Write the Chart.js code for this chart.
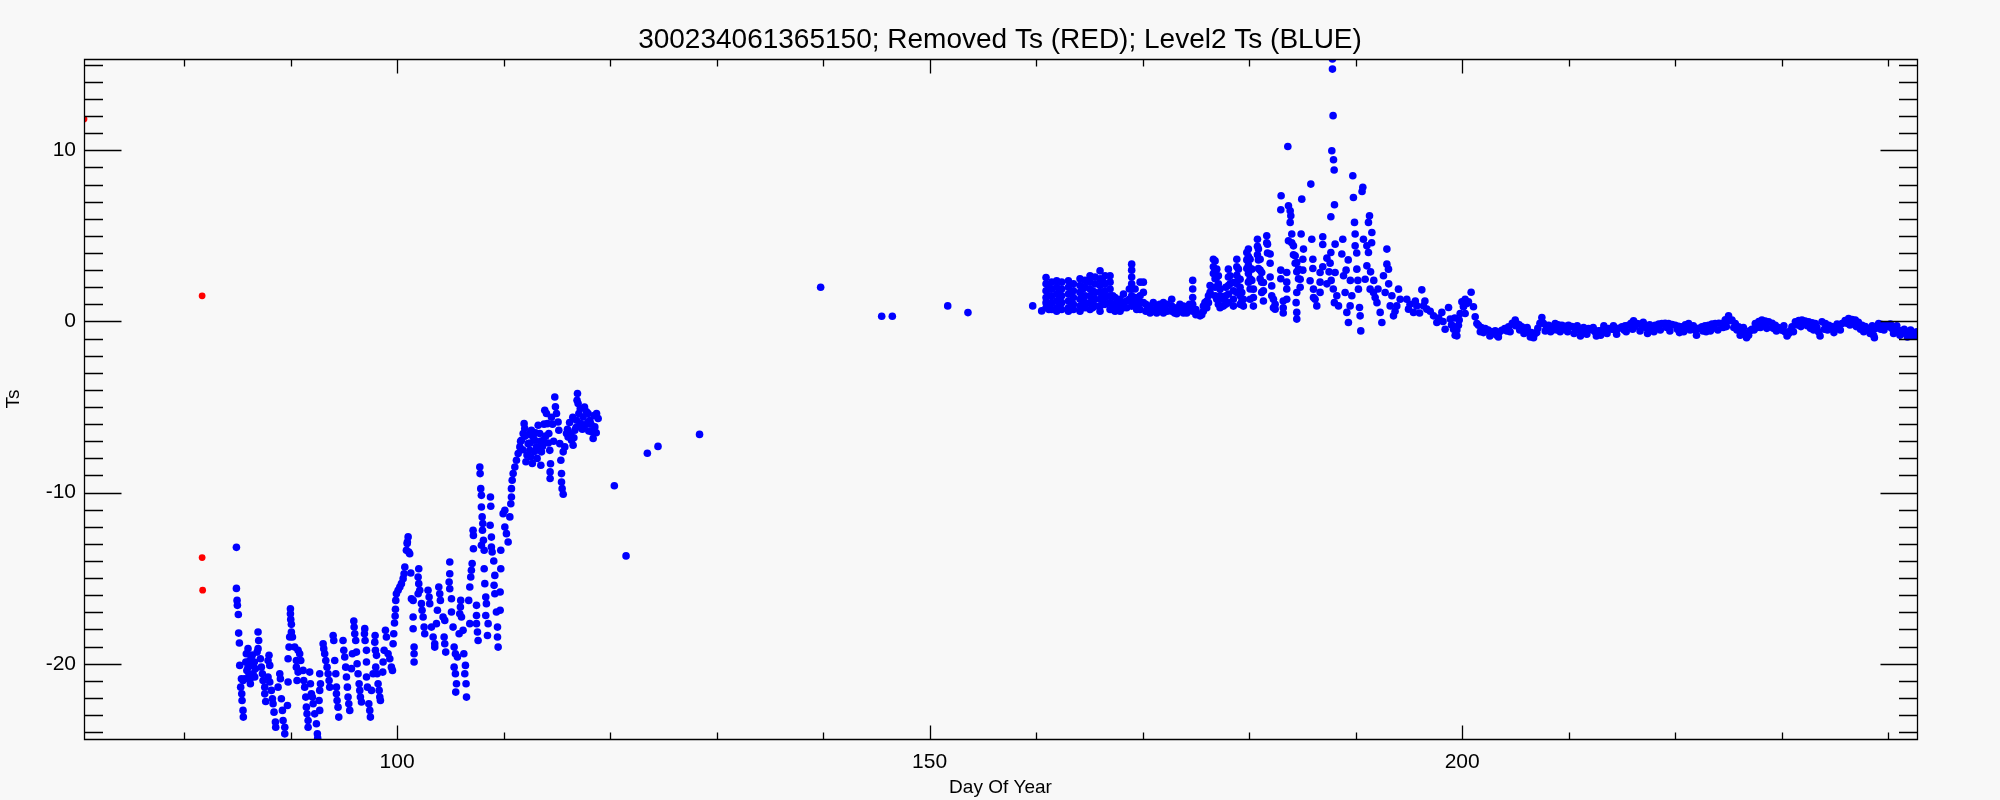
<!DOCTYPE html>
<html>
<head>
<meta charset="utf-8">
<script src="https://cdn.jsdelivr.net/npm/chart.js"></script>
<style>
html,body{margin:0;padding:0;background:#f8f8f8;}
canvas{display:block;}
</style>
</head>
<body>
<canvas id="c" width="2000" height="800"></canvas>
<script>
// ---------- text ----------
const titleText = '300234061365150; Removed Ts (RED); Level2 Ts (BLUE)';
const xAxisTitle = 'Day Of Year';
const yAxisTitle = 'Ts';

// ---------- axes ----------
const xRange = [70.61, 242.7];
const yRange = [-24.4, 15.34];
const xMajorTicks = [100, 150, 200];
const xMinorTicks = [80, 90, 110, 120, 130, 140, 160, 170, 180, 190, 210, 220, 230, 240];
const yMajorTicks = [-20, -10, 0, 10];
const yMinorTicks = [-24, -23, -22, -21, -19, -18, -17, -16, -15, -14, -13, -12, -11, -9, -8, -7, -6, -5, -4, -3, -2, -1, 1, 2, 3, 4, 5, 6, 7, 8, 9, 11, 12, 13, 14, 15];

// ---------- data: [day, Ts] ----------
const redRemoved = [[70.61,11.83],[81.7,1.5],[81.7,-13.8],[81.75,-15.7]];

const blueSpringA = [
[84.92,-13.2],[84.92,-15.6],[84.98,-16.3],[85.01,-16.59],[85.10,-17.12],[85.13,-18.21],[85.20,-18.79],[85.23,-20.1],[85.39,-20.88],[85.32,-21.37],[85.42,-21.76],[85.45,-22.15],[85.54,-22.73],[85.57,-23.12],
[85.54,-20.98],[85.70,-20.88],[85.85,-19.42],[86.01,-19.12],[86.17,-19.81],[86.01,-20.2],[86.48,-20.59],[86.64,-20.78],[86.23,-21.17],[86.33,-19.6],[86.5,-20.1],[85.8,-19.9],[85.9,-20.4],[86.1,-20.6],[86.3,-20.1],[86.4,-19.5],[86.6,-19.9],[86.7,-20.3],[86.2,-20.9],
[86.95,-18.15],[87.01,-18.64],[86.95,-19.12],[86.86,-19.32],[87.17,-19.71],[87.26,-20.2],[87.36,-20.59],[87.42,-20.98],[87.58,-21.37],[87.58,-21.76],[87.67,-22.21],
[87.98,-19.51],[87.89,-19.81],[88.05,-20.1],[87.89,-20.78],[88.05,-21.07],[88.20,-21.56],[88.30,-22.05],[88.36,-22.34],[88.45,-22.83],[88.58,-23.41],[88.61,-23.71],
[88.99,-20.59],[89.05,-20.88],[88.83,-21.37],[89.14,-22.05],[89.24,-22.73],[89.30,-23.32],[89.46,-23.71],[89.46,-24.1],
[89.77,-21.07],[89.71,-22.44],
[89.99,-16.79],[89.99,-17.08],[90.02,-17.41],[90.08,-17.7],[90.08,-18.15],[90.18,-18.44],[89.92,-18.44],[89.86,-19.03],[89.77,-19.71],[90.39,-19.03],[90.71,-19.22],[90.86,-19.42],[90.55,-19.81],[90.55,-20.2],[90.71,-20.49],[90.61,-20.98],[90.96,-19.81],
[91.18,-20.39],[91.24,-20.98],[91.33,-21.37],[91.43,-21.95],[91.49,-22.54],[91.55,-22.93],[91.65,-23.32],[91.65,-23.71],
[91.80,-20.49],[91.87,-21.17],[91.96,-21.76],[92.05,-21.95],[92.12,-22.34],[92.27,-22.93],[92.43,-23.51],[92.52,-24.1],[92.55,-24.35],
[92.74,-20.59],[92.81,-21.17],[92.74,-21.56],[92.68,-22.15],[92.74,-22.73],
[93.06,-18.83],[93.12,-19.12],[93.21,-19.42],[93.31,-19.81],[93.43,-20.2],[93.53,-20.59],[93.62,-20.98],[93.68,-21.37],
[94.0,-18.35],[94.06,-18.64],[94.15,-19.81],[94.25,-20.59],[94.31,-21.37],[94.31,-21.76],[94.37,-22.15],[94.46,-22.54],[94.53,-23.12],
[94.93,-18.64],[95.0,-19.22],[95.09,-19.61],[95.18,-20.2],[95.25,-20.78],[95.34,-21.37],[95.40,-21.95],[95.47,-22.34],[95.56,-22.73],
[95.94,-17.51],[95.97,-17.86],[96.03,-18.25],[96.12,-18.64],[95.81,-19.42],[95.72,-20.29],[96.19,-19.32],[96.25,-20.0],[96.34,-20.59],[96.44,-21.17],[96.50,-21.56],[96.56,-21.95],[96.66,-22.24],
[96.97,-17.95],[96.94,-18.25],[97.0,-18.64],[97.13,-19.22],[97.13,-19.9],[97.13,-20.78],[97.22,-21.37],[97.35,-22.34],[97.44,-22.73],[97.50,-23.12],
[97.94,-18.35],[97.91,-18.74],[97.97,-19.22],[98.07,-19.51],[98.0,-20.2],[98.13,-20.59],[98.22,-21.17],[98.32,-21.56],[98.38,-21.95],[98.44,-22.15],[97.75,-20.59],[97.60,-21.56],
[98.91,-18.05],[99.0,-18.44],[98.79,-19.22],[99.16,-19.42],[99.32,-19.71],[99.47,-20.2],[99.57,-20.39],[98.69,-19.9],[98.66,-20.49],
[99.63,-18.83],[99.69,-18.25],[99.76,-17.62],[99.82,-17.21],[99.85,-16.82],[99.88,-16.3],[99.94,-15.91],[100.1,-15.71],[100.26,-15.52],[100.41,-15.32],[100.57,-15.03],[100.66,-14.74],[100.73,-14.35],[100.88,-13.37],[100.95,-12.98],[101.04,-12.59]
];

const blueSpringB = [
[100.97,-12.89],[101.1,-13.47],[101.19,-13.57],[101.29,-14.7],
[101.35,-16.2],[101.51,-16.3],[101.51,-17.27],[101.51,-17.96],[101.6,-19.03],[101.6,-19.42],[101.6,-19.9],
[102.04,-14.45],[101.98,-14.93],[102.04,-15.32],[102.13,-15.71],[101.98,-15.91],[102.29,-16.49],[102.35,-16.88],[102.45,-17.27],[102.54,-17.86],[102.6,-18.25],
[102.91,-15.71],[103.01,-16.1],[103.07,-16.49],[103.23,-17.86],[103.39,-18.44],[103.54,-18.83],[103.54,-19.03],
[103.92,-15.52],[104.01,-15.91],[104.07,-16.3],[103.79,-16.88],[103.7,-17.66],[104.32,-17.27],[104.48,-17.47],[104.42,-18.44],[104.48,-18.83],[104.57,-19.32],
[104.95,-14.06],[104.95,-14.74],[104.89,-15.23],[104.95,-15.62],[105.11,-16.2],[105.11,-16.98],[105.26,-17.86],[105.36,-19.03],[105.48,-19.42],[105.67,-19.61],[105.36,-20.2],[105.48,-20.59],[105.58,-21.17],[105.51,-21.66],
[105.98,-16.3],[105.95,-16.69],[105.89,-17.08],[106.05,-17.27],[105.83,-18.25],[106.2,-18.05],[106.27,-19.42],[106.42,-20.1],[106.36,-20.59],[106.48,-21.17],[106.52,-21.95],
[106.73,-16.3],[106.83,-15.52],[106.92,-14.93],[106.98,-14.54],[107.05,-14.15],[106.83,-17.66],[107.14,-12.2],[107.17,-12.5],[107.17,-13.28],[107.46,-16.59],[107.46,-17.18],[107.46,-17.66],[107.55,-18.15],[107.61,-18.64],
[107.77,-8.5],[107.8,-8.89],[107.86,-9.77],[107.92,-10.16],[107.92,-10.84],[107.99,-11.42],[108.05,-11.81],[108.02,-12.2],[108.11,-12.79],[107.92,-13.08],[108.18,-13.37],[108.18,-14.45],[108.24,-15.32],[108.33,-16.1],[108.39,-16.49],[108.33,-17.18],[108.55,-17.66],[108.49,-18.35],
[108.77,-10.26],[108.8,-10.8],[108.74,-11.91],[108.86,-12.6],[108.86,-13.18],[108.93,-13.47],[109.08,-14.0],[109.18,-14.84],[109.11,-15.42],[109.18,-15.91],[109.33,-16.98],[109.43,-17.86],[109.43,-18.44],[109.49,-19.03],
[109.74,-13.37],[109.74,-14.45],[109.68,-15.81],[109.68,-16.88],[110.12,-11.03],[109.96,-11.23],[110.12,-12.01],[110.27,-12.4],[110.43,-12.89],[110.59,-11.42],[110.68,-10.65],[110.74,-10.26],[110.74,-9.77],[110.81,-9.28],[110.9,-8.89],[111.06,-8.5],[111.21,-8.11],[111.37,-7.72],[111.53,-7.33],[111.68,-6.94],[111.84,-6.55],[111.93,-5.97],[111.99,-6.26]
];

const blueSpringC = [
[112.31,-7.14],[112.46,-7.53],[112.56,-7.92],[112.62,-6.36],[112.78,-6.75],[112.93,-6.94],[113.09,-7.33],[113.25,-6.06],[113.4,-6.55],[113.56,-7.62],[113.5,-8.4],[113.72,-6.94],[113.87,-5.19],[114.03,-5.38],[114.12,-5.97],[114.25,-6.55],[114.34,-7.53],[114.41,-8.31],[114.37,-8.79],[114.37,-9.18],
[111.6,-7.0],[111.8,-7.5],[112.0,-6.7],[112.1,-8.2],[112.2,-7.8],[112.4,-6.6],[112.5,-7.1],[112.7,-8.3],[112.9,-7.6],[113.0,-6.5],[113.15,-8.0],[113.3,-7.5],[113.45,-7.0],[113.65,-7.3],[113.8,-6.0],[113.95,-6.7],[114.2,-7.1],[114.5,-5.6],[114.6,-6.0],[114.7,-7.0],
[114.81,-4.41],[114.87,-4.99],[114.97,-5.38],[115.12,-5.87],[115.19,-6.36],[115.28,-7.14],[115.38,-8.11],[115.44,-8.89],[115.44,-9.38],[115.5,-9.77],[115.6,-10.1],[115.6,-7.62],[115.75,-7.33],
[115.91,-6.55],[116.06,-6.75],[116.38,-6.94],[116.53,-7.23],[116.69,-6.36],[116.85,-5.77],[116.94,-4.21],[117.0,-4.8],[117.07,-5.38],[117.25,-5.97],[117.47,-5.58],[117.63,-6.06],[117.79,-5.28],[117.94,-5.38],[118.1,-5.77],[118.26,-6.45],[118.41,-6.84],[118.57,-6.16],[118.73,-5.38],[118.88,-5.67],
[116.0,-6.3],[116.2,-5.9],[116.3,-6.6],[116.5,-5.6],[116.6,-6.8],[116.8,-6.2],[116.9,-4.6],[117.2,-5.1],[117.4,-6.3],[117.6,-5.0],[117.9,-5.9],[118.0,-6.4],[118.2,-6.0],[118.5,-5.5],[118.7,-6.5]
];

const blueSparse = [[120.4,-9.6],[121.5,-13.7],[123.5,-7.7],[124.5,-7.3],[128.4,-6.6],[139.77,2.0],[145.5,0.31],[146.5,0.31],[151.7,0.91],[153.6,0.52]];

const blueSummerA = [
[159.68,0.91],[160.52,0.62],
[160.93,2.57],[160.93,2.2],[160.93,1.8],[160.93,1.4],[160.93,1.1],[160.93,0.8],
[161.2,2.0],[161.2,1.5],[161.2,1.0],[161.2,0.7],
[161.46,2.3],[161.46,1.9],[161.46,1.5],[161.46,1.1],[161.46,0.7],
[161.93,2.38],[161.93,2.0],[161.93,1.6],[161.93,1.2],[161.93,0.8],[161.93,0.6],
[162.2,1.8],[162.2,1.3],[162.2,0.9],
[162.4,2.3],[162.4,1.9],[162.4,1.5],[162.4,1.1],[162.4,0.7],
[163.03,2.38],[163.03,2.0],[163.03,1.6],[163.03,1.2],[163.03,0.8],[163.03,0.6],
[163.3,1.7],[163.3,1.2],[163.3,0.8],
[163.5,2.2],[163.5,1.8],[163.5,1.4],[163.5,1.0],[163.5,0.7],
[164.12,2.5],[164.12,2.1],[164.12,1.7],[164.12,1.3],[164.12,0.9],[164.12,0.6],
[164.4,1.9],[164.4,1.4],[164.4,1.0],
[164.59,2.4],[164.59,2.0],[164.59,1.5],[164.59,1.1],[164.59,0.8],
[165.06,2.67],[165.06,2.3],[165.06,1.9],[165.06,1.5],[165.06,1.1],[165.06,0.7],
[165.3,1.8],[165.3,1.2],[165.3,0.8],
[165.53,2.6],[165.53,2.2],[165.53,1.7],[165.53,1.3],[165.53,0.9],
[166.0,2.96],[166.0,2.5],[166.0,2.1],[166.0,1.7],[166.0,1.3],[166.0,0.9],[166.0,0.6],
[166.3,2.3],[166.3,1.6],[166.3,1.0],
[166.47,2.67],[166.47,2.2],[166.47,1.8],[166.47,1.4],[166.47,1.0],
[166.94,2.67],[166.94,2.3],[166.94,1.9],[166.94,1.5],[166.94,1.1],[166.94,0.7],
[167.2,1.5],[167.2,1.0],[167.2,0.7],
[167.41,1.4],[167.41,1.0],[167.41,0.6],
[167.65,1.1],[167.65,0.7],
[167.88,1.3],[167.88,0.9],[167.88,0.6],
[168.2,1.6],[168.2,1.1],[168.2,0.8],
[168.5,1.2],[168.5,0.8],
[168.75,1.9],[168.75,1.3],
[168.97,3.35],[168.97,3.0],[168.97,2.6],[168.97,2.2],[168.97,1.9],[168.97,1.5],[168.97,1.2],[168.97,0.9],
[169.29,1.9],[169.29,1.4],[169.29,1.0],
[169.44,1.3],[169.44,0.9],[169.44,0.7],
[169.76,2.3],[169.76,1.5],[169.76,1.1],[169.76,0.7],
[170.07,2.3],[170.07,1.7],[170.07,1.1]
];

const blueSummerB = [
[170.3,1.0],[170.3,0.6],[170.5,0.8],[170.7,0.9],[170.7,0.5],[171.0,1.1],[171.0,0.6],[171.32,0.8],[171.32,0.5],[171.6,1.0],[171.6,0.6],
[171.95,1.1],[171.95,0.7],[171.95,0.5],[172.3,1.0],[172.3,0.6],[172.73,1.3],[172.73,0.9],[172.73,0.6],[173.0,0.8],[173.0,0.5],
[173.2,0.7],[173.2,0.45],[173.5,1.0],[173.5,0.6],[173.83,0.9],[173.83,0.5],[174.14,0.8],[174.14,0.5],[174.4,1.0],[174.4,0.7],
[174.7,2.4],[174.7,1.9],[174.7,1.4],[174.7,1.0],[174.7,0.6],[175.0,0.7],[175.0,0.4],[175.2,0.45],[175.39,0.33],[175.55,0.4],
[175.7,0.6],[175.7,0.9],[175.85,1.1],
[176.02,1.2],[176.02,0.8],[176.18,1.5],[176.18,1.1],[176.33,2.1],[176.33,1.7],[176.64,3.64],[176.64,3.2],[176.64,2.8],
[176.8,3.54],[176.8,3.0],[176.8,2.5],[176.8,2.0],[176.8,1.5],[176.96,3.06],[176.96,2.6],[176.96,1.3],[177.11,2.67],[177.11,2.2],[177.11,1.0],
[177.27,1.89],[177.27,1.5],[177.27,0.8],
[177.58,1.3],[177.58,0.9],[177.8,2.0],[177.8,1.5],[177.8,1.0],[178.05,3.06],[178.05,2.6],[178.05,2.1],[178.05,1.6],[178.05,1.1],
[178.21,2.67],[178.21,2.2],[178.52,2.28],[178.52,1.8],[178.52,1.3],[178.52,0.9],[178.84,3.64],[178.84,3.2],[178.84,2.7],[178.84,2.2],[178.84,1.7],
[178.99,3.06],[178.99,2.5],[179.15,2.47],[179.15,2.0],[179.15,1.5],[179.15,1.0],[179.31,1.69],[179.31,1.2],[179.46,1.3],[179.46,0.9],
[179.78,4.03],[179.78,3.6],[179.78,3.1],[179.93,4.23],[179.93,3.8],[179.93,3.3],[179.93,2.8],[179.93,2.3],
[180.09,3.64],[180.09,3.1],[180.09,2.5],[180.09,1.9],[180.09,1.3],[180.25,3.06],[180.25,2.4],[180.4,1.89],[180.4,1.4],[180.4,0.9],
[180.78,4.81],[180.78,4.4],[180.78,3.9],[180.87,4.23],[180.87,3.6],[180.87,3.1],[181.03,3.64],[181.03,3.0],[181.03,2.5],
[181.18,2.86],[181.18,2.3],[181.18,1.7],[181.34,2.28],[181.34,1.8],[181.34,1.2],[181.65,5.01],[181.65,4.6],[181.72,4.52],[181.72,4.0],
[181.97,3.94],[181.97,3.4],[181.97,2.6],[182.12,2.08],[182.12,1.5],[182.28,1.3],[182.28,0.8],[182.44,0.72],[182.44,1.0]
];

const blueSummerC = [
[182.97,6.53],[182.97,3.0],[182.97,2.5],[183.0,7.35],[183.2,1.2],[183.2,0.8],[183.2,0.5],[183.53,2.86],[183.53,2.3],[183.53,1.9],[183.53,1.3],
[183.63,10.23],[183.69,6.76],[183.69,4.72],[183.85,6.47],[183.91,6.18],[183.85,5.79],[184.0,5.11],[184.0,4.6],[184.16,4.42],[184.16,3.9],
[184.32,3.84],[184.32,3.4],[184.47,3.45],[184.47,2.9],[184.63,3.06],[184.63,2.5],[184.79,2.47],[184.79,2.0],[184.94,7.15],[184.88,5.11],
[185.04,3.64],[185.04,3.0],[185.1,4.23],[184.47,1.69],[184.47,0.53],[184.47,0.14],[184.41,1.1],
[185.79,8.03],[185.88,4.81],[185.98,3.64],[185.98,3.1],[185.72,2.38],[186.04,1.89],[186.04,1.4],[186.19,1.3],[186.35,0.91],
[186.66,2.86],[186.66,2.3],[186.66,1.7],[186.91,4.95],[186.91,4.5],[186.91,3.2],
[187.82,15.34],[187.82,14.75],[187.88,12.03],[187.76,9.98],[187.92,9.45],[187.98,8.85],[188.01,6.82],[187.67,6.12],[188.07,4.52],[187.67,4.03],
[187.6,3.41],[188.07,2.86],[188.23,1.5],[188.39,0.91],[187.7,2.4],[187.9,1.9],[188.0,1.1],[187.5,2.9],[187.3,3.7],[187.3,2.2],
[188.79,4.81],[188.7,3.94],[188.86,2.67],[189.01,1.69],[189.17,0.53],[189.32,-0.06],[189.48,0.91],[189.64,1.5],[189.73,8.52],[189.79,7.25],
[189.89,5.79],[189.95,5.11],[189.95,4.42],[190.11,3.06],[190.26,1.89],[190.36,0.82],[190.42,0.33],[190.48,-0.55],[190.67,7.84],[190.6,7.6],
[189.5,2.4],[189.3,3.6],[189.1,3.0],[190.2,2.4],[190.1,4.0],
[191.3,6.18],[191.2,5.79],[191.52,5.2],[190.73,4.81],[191.05,4.42],[191.2,4.03],[191.05,3.25],[190.89,2.47],[191.36,1.89],[191.67,1.69],
[191.83,1.4],[192.3,0.53],[192.46,-0.06],[191.5,4.6],[191.4,2.9],[191.7,2.4],[192.0,1.1],[192.1,1.9],
[192.93,4.23],[192.93,3.35],[193.08,3.06],[192.61,2.67],[192.77,1.69],[193.24,0.91],[193.55,0.33],[193.86,0.91],[194.02,1.89],[194.18,1.3],
[193.1,2.2],[193.4,1.5],[193.7,0.6],
[194.8,1.3],[194.96,0.72],[195.43,0.53],[195.74,0.91],[196.21,1.85],[196.37,0.91],[196.68,0.72],[195.1,1.0],[195.6,1.2],[196.0,0.5],[196.5,1.2],
[197.31,0.33],[197.62,-0.06],[198.09,0.53],[198.4,-0.45],[198.72,0.82],[198.88,0.14],[199.19,-0.45],[199.5,-0.84],[197.0,0.6],[197.8,0.2],
[198.2,0.0],[199.0,-0.2],[199.3,0.2],
[199.34,-0.8],[199.5,-0.5],[199.65,-0.22],[199.72,0.08],[199.81,0.47],[199.97,1.15],[200.12,0.86],[200.28,0.47],[200.44,1.05],[200.59,1.15],
[200.84,1.71],[201.06,0.86],[201.22,0.27],[201.38,-0.12],[200.28,1.3],[200.13,0.91]
];

const blueLate = [
[201.53,-0.22],[201.8,-0.35],[202.16,-0.41],[202.45,-0.5],[202.78,-0.61],[203.0,-0.7],[203.25,-0.8],[203.5,-0.62],[203.72,-0.51],[204.0,-0.42],
[204.35,-0.31],[204.7,-0.1],[204.98,0.08],[205.13,-0.12],[205.35,-0.2],[205.6,-0.31],[205.9,-0.45],[206.23,-0.61],[206.5,-0.65],[206.85,-0.7],
[207.1,-0.4],[207.3,-0.1],[207.48,0.23],[207.64,-0.12],[207.9,-0.25],[208.11,-0.22],[208.4,-0.3],[208.73,-0.12],[209.0,-0.2],[209.36,-0.22],
[209.7,-0.28],[209.98,-0.22],[210.3,-0.3],[210.61,-0.41],[210.9,-0.5],[211.24,-0.61],[211.55,-0.5],[211.86,-0.41],[212.2,-0.5],[212.49,-0.61],
[212.8,-0.55],[213.12,-0.51],[213.4,-0.45],[213.74,-0.41],[214.05,-0.45],[214.37,-0.51],[214.7,-0.4],[215.0,-0.31],[215.3,-0.25],[215.62,-0.22],
[215.85,-0.1],[216.09,0.04],[216.4,-0.12],[216.6,-0.15],[216.87,-0.22],[217.2,-0.35],[217.5,-0.41],[217.8,-0.3],[218.12,-0.22],[218.45,-0.15],
[218.75,-0.12],[219.05,-0.1],[219.38,-0.12],[219.7,-0.18],[220.0,-0.22],[220.3,-0.28],[220.63,-0.31],[220.95,-0.2],[221.26,-0.12],[221.55,-0.3],
[221.88,-0.51],[222.2,-0.4],[222.51,-0.31],[222.8,-0.25],[223.13,-0.22],[223.45,-0.15],[223.76,-0.12],[224.1,-0.1],[224.39,-0.12],[224.7,0.1],
[225.01,0.33],[225.33,0.08],[225.64,-0.12],[225.95,-0.31],[226.27,-0.61],[226.6,-0.7],[226.89,-0.8],[227.2,-0.45],[227.52,-0.12],[227.85,0.0],
[228.14,0.08],[228.45,0.02],[228.77,-0.02],[229.1,-0.1],[229.4,-0.22],[229.7,-0.35],[230.02,-0.51],[230.3,-0.6],[230.65,-0.7],[230.96,-0.31],
[231.28,-0.02],[231.6,0.05],[231.9,0.08],[232.2,0.02],[232.53,-0.02],[232.85,-0.08],[233.15,-0.12],[233.47,-0.61],[233.78,-0.02],[234.1,-0.12],
[234.41,-0.22],[234.7,-0.3],[235.03,-0.41],[235.35,-0.25],[235.66,-0.12],[235.95,0.05],[236.28,0.17],[236.6,0.12],[236.91,0.08],[237.2,-0.05],
[237.54,-0.22],[237.85,-0.3],[238.16,-0.41],[238.4,-0.6],[238.63,-0.8],[238.85,-0.4],[239.1,-0.12],[239.4,-0.18],[239.73,-0.22],[240.05,-0.3],
[240.35,-0.41],[240.65,-0.45],[240.98,-0.51],[241.3,-0.6],[241.61,-0.7],[241.9,-0.72],[242.23,-0.7],[242.5,-0.65],[242.7,-0.61],
[202.0,-0.65],[203.1,-0.55],[204.2,-0.55],[205.0,-0.25],[206.1,-0.35],[207.0,-0.65],[207.5,-0.05],[208.5,-0.5],[209.5,-0.45],[210.8,-0.25],
[211.4,-0.35],[212.3,-0.35],[213.3,-0.25],[214.2,-0.25],[215.2,-0.5],[216.2,-0.3],[217.0,-0.05],[217.6,-0.2],[218.3,-0.4],[219.2,-0.35],
[220.2,-0.45],[221.0,-0.4],[221.7,-0.25],[222.6,-0.55],[223.5,-0.4],[224.5,-0.35],[225.1,0.05],[225.8,-0.5],[226.4,-0.35],[227.0,-0.55],
[227.7,-0.35],[228.3,-0.2],[229.2,-0.4],[230.2,-0.25],[230.8,-0.55],[231.5,-0.2],[232.4,-0.25],[233.3,-0.35],[234.3,-0.5],[235.2,-0.15],
[236.1,-0.1],[236.7,-0.15],[237.4,-0.45],[238.5,-0.25],[239.3,-0.45],[240.2,-0.15],[240.8,-0.25],[241.5,-0.45],[242.1,-0.5],[242.6,-0.8],
[201.7,-0.6],[202.6,-0.85],[203.4,-0.9],[204.5,-0.6],[205.4,-0.5],[205.8,-0.7],[206.4,-0.9],[206.7,-0.95],[207.8,-0.55],[208.3,-0.6],
[208.9,-0.5],[209.2,-0.6],[209.9,-0.6],[210.5,-0.7],[211.1,-0.85],[211.7,-0.75],[212.6,-0.85],[213.0,-0.8],[213.6,-0.7],[214.5,-0.75],
[215.4,-0.6],[216.0,-0.45],[216.7,-0.55],[217.4,-0.7],[218.0,-0.6],[218.6,-0.5],[219.5,-0.55],[220.4,-0.65],[220.8,-0.6],[221.4,-0.5],
[222.0,-0.8],[222.9,-0.6],[223.3,-0.55],[224.0,-0.5],[224.8,-0.3],[225.5,-0.35],[226.1,-0.8],[226.7,-0.95],[227.4,-0.5],[228.0,-0.35],
[228.6,-0.4],[229.5,-0.55],[230.5,-0.85],[231.1,-0.6],[231.8,-0.3],[232.7,-0.4],[233.0,-0.5],[233.6,-0.85],[234.0,-0.45],[234.9,-0.65],
[235.5,-0.5],[236.4,-0.2],[237.0,-0.3],[237.7,-0.6],[238.3,-0.7],[238.7,-0.95],[239.6,-0.5],[240.5,-0.7],[241.1,-0.8],[241.8,-0.9],[242.4,-0.85]
];

// ---------- build ----------
const toXY = arr => arr.map(p => ({x: p[0], y: p[1]}));
const blueAll = [].concat(blueSpringA, blueSpringB, blueSpringC, blueSparse, blueSummerA, blueSummerB, blueSummerC, blueLate);

const FONT = "'Liberation Sans', Arial, sans-serif";
const BG = '#f8f8f8';

const idlAxes = {
  id: 'idlAxes',
  beforeDraw(chart) {
    const ctx = chart.ctx;
    ctx.save();
    ctx.fillStyle = BG;
    ctx.fillRect(0, 0, chart.width, chart.height);
    ctx.restore();
  },
  afterDraw(chart) {
    const {ctx, chartArea: a} = chart;
    const xs = chart.scales.x, ys = chart.scales.y;
    const r = v => Math.round(v) + 0.5;
    const L = r(a.left), R = r(a.right), T = r(a.top), B = r(a.bottom);
    ctx.save();
    ctx.strokeStyle = '#000';
    ctx.lineWidth = 1.3;
    ctx.beginPath();
    ctx.moveTo(L, T); ctx.lineTo(R, T); ctx.lineTo(R, B); ctx.lineTo(L, B); ctx.closePath();
    const xt = (v, len) => { const p = r(xs.getPixelForValue(v)); ctx.moveTo(p, B); ctx.lineTo(p, B - len); ctx.moveTo(p, T); ctx.lineTo(p, T + len); };
    const yt = (v, len) => { const p = r(ys.getPixelForValue(v)); ctx.moveTo(L, p); ctx.lineTo(L + len, p); ctx.moveTo(R, p); ctx.lineTo(R - len, p); };
    xMajorTicks.forEach(v => xt(v, 14));
    xMinorTicks.forEach(v => xt(v, 7));
    yMajorTicks.forEach(v => yt(v, 37));
    yMinorTicks.forEach(v => yt(v, 18.5));
    ctx.stroke();
    ctx.restore();
  }
};

new Chart(document.getElementById('c'), {
  type: 'scatter',
  data: {
    datasets: [
      {label: 'Level2 Ts', data: toXY(blueAll), backgroundColor: '#0000ff', borderColor: '#0000ff', pointRadius: 3.8, pointBorderWidth: 0, clip: 0},
      {label: 'Removed Ts', data: toXY(redRemoved), backgroundColor: '#ff0000', borderColor: '#ff0000', pointRadius: 3.4, pointBorderWidth: 0, clip: 0}
    ]
  },
  options: {
    responsive: false,
    animation: false,
    events: [],
    layout: {padding: 0},
    plugins: {
      legend: {display: false},
      tooltip: {enabled: false},
      title: {display: true, text: titleText, color: '#000', font: {family: FONT, size: 28, weight: 'normal', lineHeight: 1.2}, padding: {top: 23, bottom: 2.4}}
    },
    scales: {
      x: {
        type: 'linear', position: 'bottom', min: xRange[0], max: xRange[1],
        grid: {display: false, drawTicks: false},
        border: {display: false},
        afterBuildTicks: s => { s.ticks = xMajorTicks.map(v => ({value: v})); },
        afterFit: s => { s.height = 61; },
        ticks: {color: '#000', padding: 11, maxRotation: 0, autoSkip: false, font: {family: FONT, size: 21, lineHeight: 1.2}, callback: v => String(v)},
        title: {display: true, text: xAxisTitle, color: '#000', font: {family: FONT, size: 19, lineHeight: 1.2}, padding: {top: 0, bottom: 1}}
      },
      y: {
        type: 'linear', position: 'left', min: yRange[0], max: yRange[1],
        grid: {display: false, drawTicks: false},
        border: {display: false},
        afterBuildTicks: s => { s.ticks = yMajorTicks.map(v => ({value: v})); },
        afterFit: s => { s.width = 84; },
        ticks: {color: '#000', padding: 8, autoSkip: false, font: {family: FONT, size: 21, lineHeight: 1.2}, callback: v => String(v)},
        title: {display: true, text: yAxisTitle, color: '#000', font: {family: FONT, size: 19, lineHeight: 1.2}, padding: {top: 2, bottom: 0}}
      },
      yRight: {
        type: 'linear', position: 'right', min: yRange[0], max: yRange[1],
        grid: {display: false, drawTicks: false},
        border: {display: false},
        ticks: {display: false},
        afterFit: s => { s.width = 83; }
      }
    }
  },
  plugins: [idlAxes]
});
</script>
</body>
</html>
